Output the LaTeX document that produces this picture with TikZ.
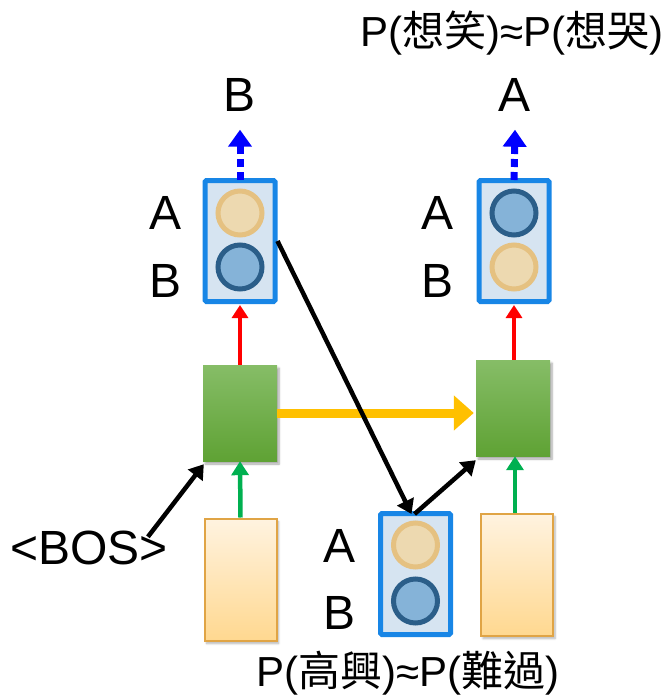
\documentclass[tikz,border=0pt]{standalone}
\usepackage{fontspec}
\setmainfont{Liberation Sans}
\newfontfamily\cjkfont{Noto Sans CJK TC}
\usetikzlibrary{arrows.meta,shadows.blur}

\definecolor{boxedge}{RGB}{24,134,230}
\definecolor{boxfill}{RGB}{214,228,241}
\definecolor{tanfill}{RGB}{237,217,176}
\definecolor{tanedge}{RGB}{229,193,129}
\definecolor{bluefill}{RGB}{133,179,216}
\definecolor{blueedge}{RGB}{43,94,137}
\definecolor{greentop}{RGB}{134,189,103}
\definecolor{greenbot}{RGB}{95,162,52}
\definecolor{inputtop}{RGB}{255,243,224}
\definecolor{inputbot}{RGB}{255,216,144}
\definecolor{inputedge}{RGB}{224,164,69}
\definecolor{recur}{RGB}{255,192,0}
\definecolor{ingreen}{RGB}{0,176,80}

\tikzset{
  outbox/.style={draw=boxedge, fill=boxfill, line width=5pt, rounded corners=1.5pt,
    minimum width=70pt, minimum height=121pt, inner sep=0pt},
  tanball/.style={circle, draw=tanedge, fill=tanfill, line width=5pt,
    minimum size=44pt, inner sep=0pt},
  blueball/.style={circle, draw=blueedge, fill=bluefill, line width=5pt,
    minimum size=44pt, inner sep=0pt},
  hidden/.style={top color=greentop, bottom color=greenbot, minimum width=74pt,
    minimum height=96pt, inner sep=0pt,
    blur shadow={shadow xshift=2pt, shadow yshift=-3pt, shadow blur steps=6, shadow opacity=35}},
  inbox/.style={draw=inputedge, line width=2pt, top color=inputtop, bottom color=inputbot,
    minimum width=72pt, minimum height=122pt, inner sep=0pt,
    blur shadow={shadow xshift=2pt, shadow yshift=-3pt, shadow blur steps=6, shadow opacity=30}},
  lbl/.style={font=\fontsize{48}{48}\selectfont, inner sep=0pt},
  prob/.style={font=\fontsize{42}{42}\selectfont, inner sep=0pt},
  redarr/.style={draw=red, line width=4.5pt, -{Triangle[length=13pt,width=16pt]}},
  grnarr/.style={draw=ingreen, line width=4.5pt, -{Triangle[length=14pt,width=17pt]}},
  bluearr/.style={draw=blue, line width=7pt, dash pattern=on 8pt off 5pt,
    -{Triangle[length=17pt,width=23pt]}},
  blkarr/.style={draw=black, line width=4.5pt, -{Triangle[length=14pt,width=18pt]}},
  recarr/.style={draw=recur, line width=9pt, -{Triangle[length=20pt,width=34pt]}},
}

\begin{document}
\begin{tikzpicture}[x=1pt, y=-1pt]
\useasboundingbox (0,0) rectangle (669,698);

% input columns
\node[inbox] (x1) at (240.5,579.5) {};
\node[inbox] (x2) at (517,574.5) {};

% hidden cells
\node[hidden] (h1) at (240,413) {};
\node[hidden] (h2) at (513,408) {};

% output distributions, step one and step two
\node[outbox] (o1) at (240,241) {};
\node[tanball]  (o1a) at (240,213) {};
\node[blueball] (o1b) at (240,267) {};

\node[outbox] (o2) at (514,241) {};
\node[blueball] (o2a) at (514,213) {};
\node[tanball]  (o2b) at (514,267) {};

% distribution fed back in
\node[outbox] (o3) at (415.5,574) {};
\node[tanball]  (o3a) at (415.5,545) {};
\node[blueball] (o3b) at (415.5,601) {};

% letter labels
\node[lbl] (l1a) at (166,213) {A};
\node[lbl] (l1b) at (166,281) {B};
\node[lbl] (l2a) at (438,213) {A};
\node[lbl] (l2b) at (438,281) {B};
\node[lbl] (l3a) at (340,546) {A};
\node[lbl] (l3b) at (340,613) {B};

% sampled outputs
\node[lbl] (y1) at (240,95) {B};
\node[lbl] (y2) at (515,95) {A};

\node[lbl] (bos) at (89,548) {<BOS>};

\node[prob] (ptop) at (512,33) {P(\cjkfont 想笑\rmfamily)≈P(\cjkfont 想哭\rmfamily)};
\node[prob] (pbot) at (408,673) {P(\cjkfont 高興\rmfamily)≈P(\cjkfont 難過\rmfamily)};

% connectors
\draw[grnarr] (x1.north) -- (h1.south);
\draw[grnarr] ([xshift=-2pt]x2.north) -- ([xshift=2pt]h2.south);
\draw[redarr] (h1.north) -- ([yshift=-1pt]o1.south);
\draw[redarr] ([xshift=1pt]h2.north) -- ([yshift=-1pt]o2.south);
\draw[bluearr] ([yshift=-2pt]o1.north) -- ([yshift=-18pt]y1.south);
\draw[bluearr] ([yshift=-2pt]o2.north) -- ([yshift=-18pt]y2.south);
\draw[recarr] (h1.east) -- ([xshift=-2pt]h2.west |- h1.east);
\draw[blkarr] ([xshift=-20pt,yshift=-6pt]bos.north east) -- ([xshift=1pt,yshift=-3pt]h1.south west);
\draw[blkarr] (o1.east) -- ([xshift=-4pt,yshift=-3pt]o3.north);
\draw[blkarr] ([xshift=-1pt,yshift=-3pt]o3.north) -- ([xshift=0pt,yshift=-4pt]h2.south west);
\end{tikzpicture}
\end{document}
